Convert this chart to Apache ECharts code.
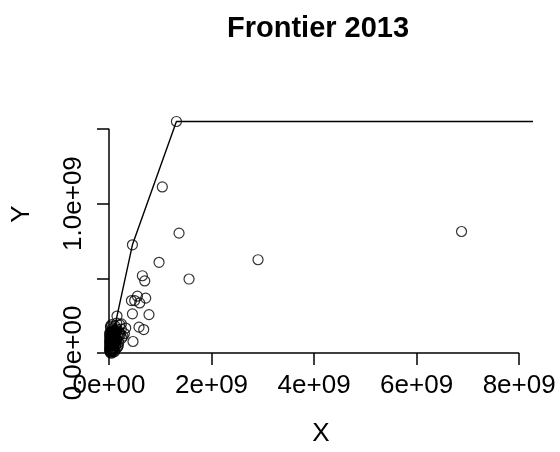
<!DOCTYPE html>
<html>
<head>
<meta charset="utf-8">
<script src="https://cdn.jsdelivr.net/npm/echarts@6/dist/echarts.min.js"></script>
<style>
  html, body { margin: 0; padding: 0; background: #fff; }
  #chart { width: 560px; height: 452px; }
</style>
</head>
<body>
<div id="chart"></div>
<script>
// units: 1e9
const pointsX = [1.315, 1.04, 1.366, 0.457, 0.976, 0.651, 0.697, 1.561, 0.716, 0.554, 0.437, 0.501, 0.599,
  0.457, 0.78, 0.585, 0.677, 0.468, 0.156, 0.326, 0.242, 0.273, 6.876, 2.907, 0.12, 0.21,
  0.02, 0.03, 0.05, 0.04, 0.06, 0.08, 0.10, 0.07, 0.12, 0.09, 0.15, 0.13, 0.18, 0.11, 0.20, 0.16,
  0.22, 0.14, 0.03, 0.05, 0.08, 0.02, 0.01, 0.06, 0.10, 0.19, 0.25, 0.17, 0.04, 0.12, 0.24, 0.30,
  0.21, 0.07, 0.15, 0.11, 0.03, 0.09, 0.13, 0.05, 0.02, 0.04, 0.06, 0.01, 0.08, 0.03, 0.10, 0.14,
  0.01, 0.02, 0.03, 0.04, 0.05, 0.06, 0.07, 0.08, 0.09, 0.01, 0.02, 0.03, 0.04, 0.05, 0.06, 0.07,
  0.02, 0.04, 0.06, 0.08, 0.10, 0.12, 0.01, 0.03, 0.05, 0.07, 0.09, 0.11, 0.13, 0.16, 0.18, 0.14]
const pointsY = [1.549, 1.111, 0.802, 0.724, 0.607, 0.517, 0.482, 0.495, 0.367, 0.380, 0.351, 0.351, 0.335,
  0.262, 0.257, 0.173, 0.157, 0.077, 0.247, 0.167, 0.195, 0.113, 0.813, 0.624, 0.128, 0.130,
  0.01, 0.03, 0.02, 0.06, 0.05, 0.04, 0.07, 0.09, 0.10, 0.12, 0.09, 0.13, 0.11, 0.15, 0.14, 0.16,
  0.12, 0.06, 0.09, 0.12, 0.15, 0.05, 0.02, 0.00, 0.03, 0.07, 0.10, 0.04, 0.14, 0.18, 0.16, 0.13,
  0.19, 0.11, 0.20, 0.01, 0.00, 0.08, 0.05, 0.16, 0.08, 0.10, 0.13, 0.07, 0.02, 0.18, 0.11, 0.03,
  0.04, 0.07, 0.05, 0.09, 0.08, 0.11, 0.06, 0.09, 0.05, 0.10, 0.12, 0.14, 0.11, 0.03, 0.13, 0.15,
  0.02, 0.01, 0.02, 0.01, 0.05, 0.07, 0.13, 0.17, 0.19, 0.02, 0.14, 0.09, 0.08, 0.12, 0.05, 0.15]
const frontierX = [0, 0.156, 0.457, 1.315, 8.27]
const frontierY = [0, 0.247, 0.724, 1.549, 1.549]
const xTicks = ['0e+00', '2e+09', '4e+09', '6e+09', '8e+09']
const yTicks = ['0.0e+00', '', '1.0e+09', '']

const font = '"Liberation Sans", Arial, sans-serif'
const E9 = 1e9
const points = pointsX.map((x, i) => [x * E9, pointsY[i] * E9])
const frontier = frontierX.map((x, i) => [x * E9, frontierY[i] * E9])

const chart = echarts.init(document.getElementById('chart'))
chart.setOption({
  animation: false,
  backgroundColor: '#fff',
  title: {
    text: 'Frontier 2013',
    left: 222,
    top: 9,
    textStyle: { fontFamily: font, fontSize: 29, fontWeight: 'bold', color: '#000' }
  },
  grid: { left: 109, right: 27, top: 75, bottom: 98 },
  xAxis: {
    type: 'value',
    min: 0,
    max: 8.27 * E9,
    interval: 2 * E9,
    splitLine: { show: false },
    axisLine: { show: false },
    axisTick: { show: true, length: 12, lineStyle: { color: '#000', width: 1.5 } },
    axisLabel: {
      margin: 20,
      color: '#000',
      fontFamily: font,
      fontSize: 26,
      showMaxLabel: false,
      formatter: v => xTicks[Math.round(v / (2 * E9))] ?? ''
    },
    name: 'X',
    nameLocation: 'middle',
    nameGap: 68,
    nameTextStyle: { fontFamily: font, fontSize: 26, color: '#000' }
  },
  yAxis: {
    type: 'value',
    min: 0,
    max: 1.86 * E9,
    interval: 0.5 * E9,
    splitLine: { show: false },
    axisLine: { show: false },
    axisTick: { show: true, length: 12, lineStyle: { color: '#000', width: 1.5 } },
    axisLabel: {
      margin: 22,
      rotate: 90,
      color: '#000',
      fontFamily: font,
      fontSize: 26,
      showMaxLabel: false,
      formatter: v => yTicks[Math.round(v / (0.5 * E9))] ?? ''
    },
    name: 'Y',
    nameLocation: 'middle',
    nameGap: 74,
    nameRotate: 90,
    nameTextStyle: { fontFamily: font, fontSize: 26, color: '#000' }
  },
  series: [
    {
      // axis lines only span the tick range, like base R
      type: 'line',
      data: [[0, 0], [8 * E9, 0]],
      showSymbol: false,
      silent: true,
      clip: false,
      lineStyle: { color: '#000', width: 1.5 }
    },
    {
      type: 'line',
      data: [[0, 0], [0, 1.5 * E9]],
      showSymbol: false,
      silent: true,
      clip: false,
      lineStyle: { color: '#000', width: 1.5 }
    },
    {
      name: 'frontier',
      type: 'line',
      data: frontier,
      showSymbol: false,
      clip: false,
      lineStyle: { color: '#000', width: 1.4 }
    },
    {
      name: 'points',
      type: 'scatter',
      data: points,
      symbol: 'circle',
      symbolSize: 10,
      clip: false,
      itemStyle: { color: 'transparent', borderColor: '#000', borderWidth: 1.2 }
    }
  ]
})
</script>
</body>
</html>
